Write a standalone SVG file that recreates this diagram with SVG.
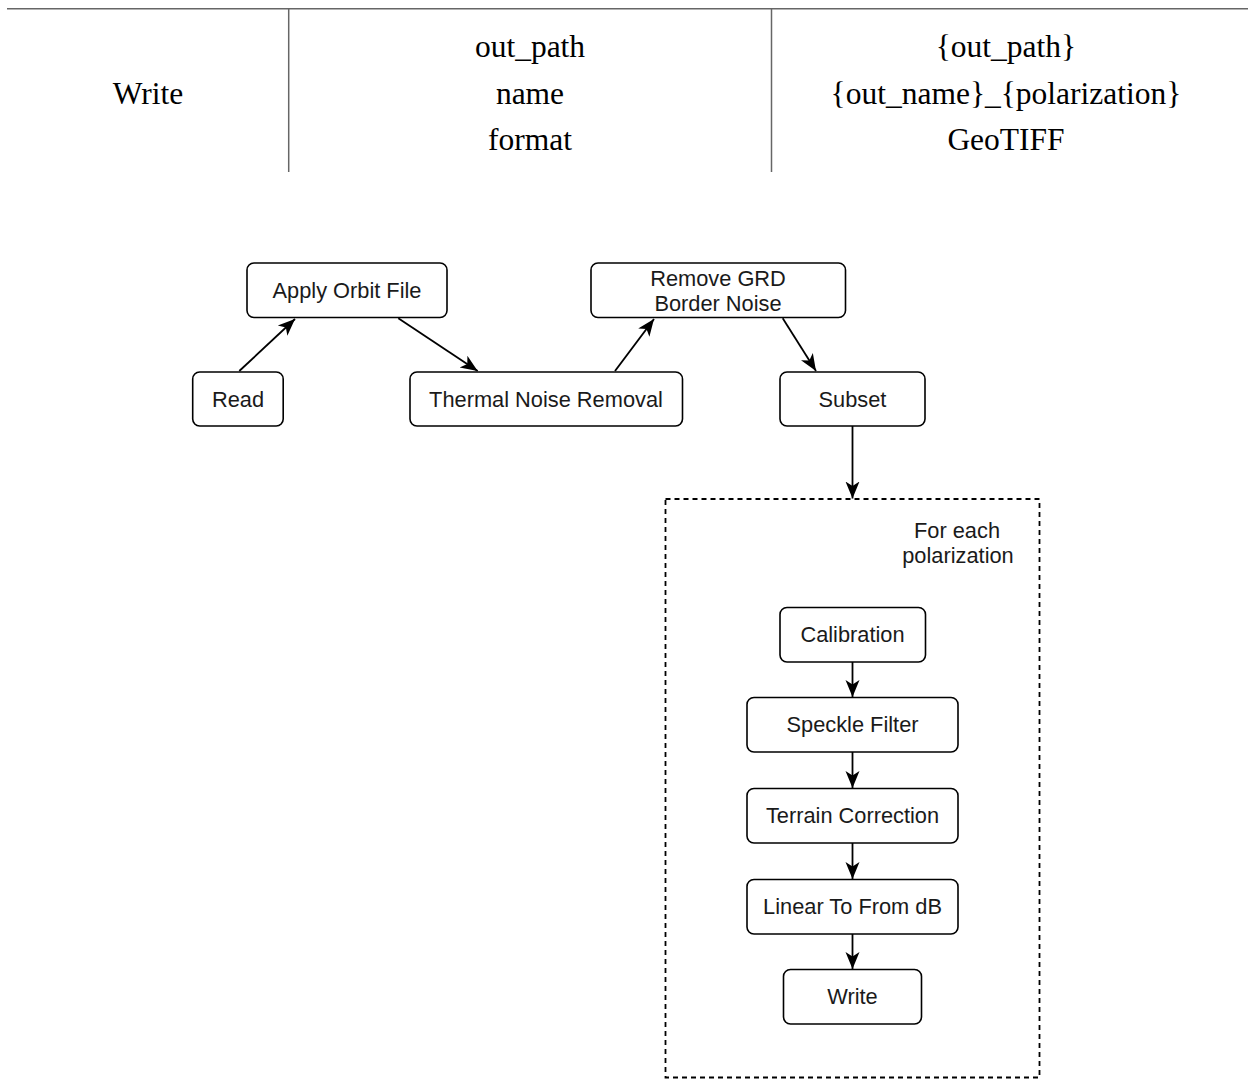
<svg xmlns="http://www.w3.org/2000/svg" width="1248" height="1079" viewBox="0 0 1248 1079">
<style>
.tbl{stroke:#666;stroke-width:1.5;fill:none}
.tt{font-family:"Liberation Serif","Times New Roman",serif;font-size:31.5px;fill:#000;text-anchor:middle}
.box{fill:#fff;stroke:#000;stroke-width:1.6}
.lbl{font-family:"Liberation Sans",Arial,Helvetica,sans-serif;font-size:21.8px;fill:#1a1a1a;text-anchor:middle}
.edge{stroke:#000;stroke-width:1.8;fill:none;marker-end:url(#arr)}
.dash{fill:none;stroke:#000;stroke-width:1.8;stroke-dasharray:5 4}
</style>
<defs>
<marker id="arr" markerUnits="userSpaceOnUse" markerWidth="18" markerHeight="16" refX="17" refY="8" orient="auto" viewBox="0 0 18 16">
<path d="M0,1 L17,8 L0,15 L4.5,8 z" fill="#000"/>
</marker>
</defs>
<rect width="1248" height="1079" fill="#fff"/>
<g id="table">
<line class="tbl" x1="7" y1="8.7" x2="1248" y2="8.7"/>
<line class="tbl" x1="288.7" y1="8.7" x2="288.7" y2="172"/>
<line class="tbl" x1="771.5" y1="8.7" x2="771.5" y2="172"/>
<text class="tt" x="148" y="104">Write</text>
<text class="tt" x="530" y="57">out_path</text>
<text class="tt" x="530" y="104">name</text>
<text class="tt" x="530" y="150">format</text>
<text class="tt" x="1006" y="57">{out_path}</text>
<text class="tt" x="1006" y="104">{out_name}_{polarization}</text>
<text class="tt" x="1006" y="150">GeoTIFF</text>
</g>
<g id="connectors">
<line class="edge" x1="239.3" y1="371" x2="295" y2="319"/>
<line class="edge" x1="398.3" y1="318.3" x2="477.7" y2="371"/>
<line class="edge" x1="615" y1="371" x2="654" y2="319"/>
<line class="edge" x1="782.7" y1="318.3" x2="816" y2="371"/>
<line class="edge" x1="852.5" y1="426" x2="852.5" y2="498.5"/>
<line class="edge" x1="852.5" y1="662" x2="852.5" y2="697"/>
<line class="edge" x1="852.5" y1="752" x2="852.5" y2="788"/>
<line class="edge" x1="852.5" y1="843" x2="852.5" y2="879"/>
<line class="edge" x1="852.5" y1="934" x2="852.5" y2="969"/>
</g>
<g id="loop">
<rect class="dash" x="665.5" y="499" width="374" height="578.5"/>
<text class="lbl" x="957" y="538">For each</text>
<text class="lbl" x="958" y="563">polarization</text>
</g>
<g id="read"><rect class="box" x="192.7" y="372" width="90.5" height="54" rx="7"/><text class="lbl" x="238" y="407">Read</text></g>
<g id="apply-orbit"><rect class="box" x="247" y="263" width="200" height="54.5" rx="7"/><text class="lbl" x="347" y="298">Apply Orbit File</text></g>
<g id="thermal"><rect class="box" x="410" y="372" width="272.5" height="54" rx="7"/><text class="lbl" x="546" y="407">Thermal Noise Removal</text></g>
<g id="border-noise"><rect class="box" x="591" y="263" width="254.5" height="54.5" rx="7"/><text class="lbl" x="718" y="286">Remove GRD</text><text class="lbl" x="718" y="311">Border Noise</text></g>
<g id="subset"><rect class="box" x="780" y="372" width="145" height="54" rx="7"/><text class="lbl" x="852.5" y="407">Subset</text></g>
<g id="calibration"><rect class="box" x="780" y="607.5" width="145.5" height="54.5" rx="7"/><text class="lbl" x="852.5" y="642">Calibration</text></g>
<g id="speckle"><rect class="box" x="747" y="697.5" width="211" height="54.5" rx="7"/><text class="lbl" x="852.5" y="732">Speckle Filter</text></g>
<g id="terrain"><rect class="box" x="747" y="788.5" width="211" height="54.5" rx="7"/><text class="lbl" x="852.5" y="823">Terrain Correction</text></g>
<g id="lin2db"><rect class="box" x="747" y="879.5" width="211" height="54.5" rx="7"/><text class="lbl" x="852.5" y="914">Linear To From dB</text></g>
<g id="write"><rect class="box" x="783.5" y="969.5" width="138" height="54.5" rx="7"/><text class="lbl" x="852.5" y="1004">Write</text></g>
</svg>
